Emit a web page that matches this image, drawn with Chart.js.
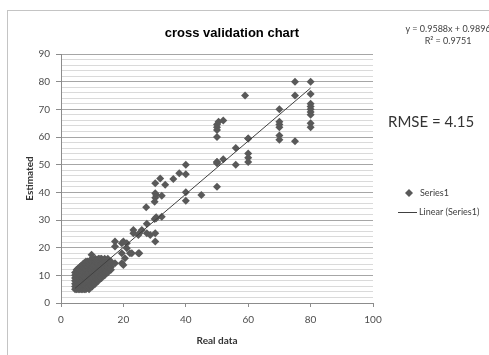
<!DOCTYPE html>
<html>
<head>
<meta charset="utf-8">
<script src="https://cdn.jsdelivr.net/npm/chart.js@4"></script>
<style>
  body { margin: 0; background: #fff; }
  #wrap { position: relative; width: 489px; height: 355px; overflow: hidden; }
  #frame { position: absolute; left: 7px; top: 10px; width: 500px; height: 400px; border: 1px solid #c4c4c4; }
  canvas { position: absolute; left: 0; top: 0; }
</style>
</head>
<body>
<div id="wrap">
  <div id="frame"></div>
  <canvas id="plot" width="489" height="355"></canvas>
</div>
<script>
const realData = [
  4.5, 4.5, 4.5, 4.5, 4.5, 4.5, 4.5,
  5, 5, 5, 5, 5, 5, 5, 5,
  5.5, 5.5, 5.5, 5.5, 5.5, 5.5,
  6, 6, 6, 6, 6, 6, 6, 6, 6,
  6.5, 6.5, 6.5, 6.5,
  7, 7, 7, 7, 7, 7, 7, 7, 7, 7,
  7.5, 7.5, 7.5, 7.5, 7.5,
  8, 8, 8, 8, 8, 8, 8, 8, 8, 8, 8,
  8.5, 8.5, 8.5, 8.5, 8.5,
  9, 9, 9, 9, 9, 9, 9, 9, 9, 9, 9,
  9.5, 9.5, 9.5, 9.5,
  10, 10, 10, 10, 10, 10, 10, 10, 10, 10, 10,
  10.5, 10.5, 10.5,
  11, 11, 11, 11, 11, 11, 11, 11, 11, 11,
  11.5, 11.5, 11.5,
  12, 12, 12, 12, 12, 12, 12, 12, 12,
  12.5, 12.5, 12.5,
  13, 13, 13, 13, 13, 13, 13, 13,
  13.5, 13.5,
  14, 14, 14, 14, 14, 14, 14,
  14.5, 14.5,
  15, 15, 15, 15, 15, 15,
  15.5, 15.5,
  16, 16, 16, 16,
  9.8,
  17.3, 17.3, 17.3, 19.5, 19.5, 19.5, 20, 20, 21.1, 21.1, 20.5, 22.1, 22.7,
  23.2, 23.2, 24.8, 24.8, 25.1, 25.1, 25.9, 27.5, 27.5, 28.6, 30.2, 30.2, 30.5,
  27.3, 30, 30.5, 32.3, 30, 30.2, 30.5, 30.2, 32.3, 30.2, 31.8, 33.4,
  36, 37.9, 40, 40, 40, 40, 45,
  50, 50, 50, 50, 50, 52, 50, 50, 50.5, 52, 50,
  56, 56, 60, 60, 60, 60, 60,
  59, 70, 70, 70, 70, 70, 70,
  75, 75, 75, 80, 80, 80, 80, 80, 80, 80, 80, 80
];
const estimated = [
  5, 6, 7, 8, 9, 10, 11,
  5, 6, 7, 8, 9, 10, 11, 12,
  5, 6.5, 8, 9.5, 11, 12.5,
  5, 6, 7, 8, 9, 10, 11, 12, 13,
  5, 7.5, 10, 13.5,
  5, 6, 7, 8, 9, 10, 11, 12, 13, 14,
  5, 6.5, 9.5, 12.5, 14.5,
  5, 6, 7, 8, 9, 10, 11, 12, 13, 14, 15,
  5.5, 7.5, 10.5, 13, 15,
  5, 6, 7, 8, 9, 10, 11, 12, 13, 14, 15,
  6.5, 9, 12, 15.5,
  6, 7, 8, 9, 10, 11, 12, 13, 14, 15, 16,
  7, 10.5, 13.5,
  7, 8, 9, 10, 11, 12, 13, 14, 15, 16,
  8.5, 12, 15.5,
  8, 9, 10, 11, 12, 13, 14, 15, 16,
  9.5, 13, 16,
  9, 10, 11, 12, 13, 14, 15, 16,
  10.5, 14.5,
  10, 11, 12, 13, 14, 15, 16,
  11.5, 14.5,
  11, 12, 13, 14, 15, 16,
  12.5, 14.5,
  12, 13, 14, 15,
  17.4,
  22.2, 20.4, 14.4, 21.6, 18, 14.4, 22.2, 13.7, 21.6, 19.8, 16.2, 18, 18,
  26.4, 25.2, 24.6, 18, 25.2, 18, 26.4, 28.6, 25.2, 24.6, 25.2, 22.2, 30.6,
  34.6, 30.4, 31, 31.2, 36.6, 38, 39, 39.7, 38.8, 43.3, 45, 42.7,
  44.8, 46.9, 50, 46.5, 40, 37, 39,
  42, 50.5, 51, 60, 62.5, 52, 63.5, 64.5, 65.5, 66, 51,
  56, 50, 59.5, 54, 52.5, 51, 59.5,
  75, 70, 65.5, 64.5, 63.5, 60.5, 59,
  80, 75, 58.5, 80, 75.5, 72, 71, 70, 69, 68, 65, 63.5
];
// linear trendline end points (y = 0.9588x + 0.9896)
const trendX = [4.5, 80];
const trendY = [5.3, 77.7];

const titleText = 'cross validation chart';
const equationText = 'y = 0.9588x + 0.9896';
const r2Text = 'R² = 0.9751';
const rmseText = 'RMSE = 4.15';
const seriesName = 'Series1';
const trendName = 'Linear (Series1)';

const MARK = '#595959';
const AXIS = '#8c8c8c';

const points = realData.map((x, i) => ({ x: x, y: estimated[i] }));
const trend = trendX.map((x, i) => ({ x: x, y: trendY[i] }));

const extras = {
  id: 'extras',
  afterDraw(chart) {
    const ctx = chart.ctx;
    ctx.save();
    ctx.fillStyle = '#000';
    ctx.textAlign = 'center';
    ctx.textBaseline = 'middle';
    ctx.font = 'bold 13px "Liberation Sans"';
    ctx.fillText(titleText, 232, 33);

    ctx.fillStyle = '#404040';
    ctx.font = '9px Lato';
    ctx.fillText(equationText, 448, 29);
    ctx.fillText(r2Text, 448, 41);

    ctx.textAlign = 'left';
    ctx.font = '15px Lato';
    ctx.fillStyle = '#333';
    ctx.fillText(rmseText, 388, 122);

    // legend
    ctx.fillStyle = MARK;
    ctx.beginPath();
    ctx.moveTo(409, 189); ctx.lineTo(413, 193); ctx.lineTo(409, 197); ctx.lineTo(405, 193);
    ctx.closePath();
    ctx.fill();
    ctx.strokeStyle = '#404040';
    ctx.lineWidth = 1;
    ctx.beginPath();
    ctx.moveTo(398, 212.5); ctx.lineTo(417, 212.5);
    ctx.stroke();
    ctx.fillStyle = '#404040';
    ctx.font = '9px Lato';
    ctx.fillText(seriesName, 420, 193);
    ctx.fillText(trendName, 419, 212);
    ctx.restore();
  }
};

new Chart(document.getElementById('plot'), {
  type: 'scatter',
  data: {
    datasets: [
      {
        label: seriesName,
        data: points,
        pointStyle: 'rectRot',
        pointRadius: 4,
        pointHoverRadius: 4,
        backgroundColor: MARK,
        borderColor: MARK,
        borderWidth: 0,
        order: 2
      },
      {
        label: trendName,
        type: 'line',
        data: trend,
        borderColor: '#404040',
        borderWidth: 1,
        pointRadius: 0,
        fill: false,
        order: 1
      }
    ]
  },
  options: {
    responsive: false,
    animation: false,
    events: [],
    layout: { padding: { left: 0, top: 54, right: 116, bottom: 0 } },
    plugins: {
      legend: { display: false },
      title: { display: false },
      tooltip: { enabled: false }
    },
    scales: {
      x: {
        type: 'linear',
        min: 0,
        max: 100,
        afterFit: (s) => { s.height = 52; },
        ticks: { stepSize: 20, padding: 7, color: '#4d4d4d', font: { family: 'Lato', size: 10 } },
        grid: { drawOnChartArea: false, tickLength: 4, tickColor: AXIS },
        border: { color: AXIS },
        title: {
          display: true,
          text: 'Real data',
          color: '#333',
          padding: { top: 0, bottom: 8 },
          font: { family: 'Lato', size: 10, weight: 'bold' }
        }
      },
      y: {
        min: 0,
        max: 90,
        afterFit: (s) => { s.width = 61; },
        ticks: {
          stepSize: 2,
          autoSkip: false,
          padding: 6,
          color: '#4d4d4d',
          font: { family: 'Lato', size: 10 },
          callback: (v) => (v % 10 === 0 ? v : '')
        },
        grid: {
          tickLength: 5,
          color: (c) => (c.tick && c.tick.value % 10 === 0 ? '#a6a6a6' : '#dadada'),
          tickColor: (c) => (c.tick && c.tick.value % 10 === 0 ? AXIS : 'rgba(0,0,0,0)')
        },
        border: { color: AXIS },
        title: {
          display: true,
          text: 'Estimated',
          color: '#333',
          padding: { top: 24, bottom: 0 },
          font: { family: 'Lato', size: 10, weight: 'bold' }
        }
      }
    }
  },
  plugins: [extras]
});
</script>
</body>
</html>
